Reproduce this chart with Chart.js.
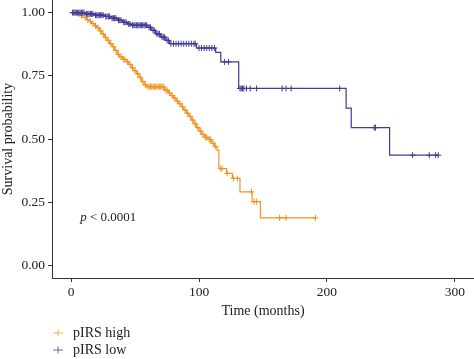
<!DOCTYPE html>
<html lang="en">
<head>
<meta charset="UTF-8" />
<title>Survival by pIRS</title>
<script src="https://cdn.jsdelivr.net/npm/chart.js"></script>
<style>
  * { margin: 0; padding: 0; box-sizing: border-box; }
  body { background: #fff; }
  .wrap { position: relative; width: 474px; height: 359px; }
</style>
</head>
<body>
<div class="wrap"><canvas id="km"></canvas></div>
<script>
// series names
const seriesNames = ['pIRS high', 'pIRS low'];

// pIRS high: event times / survival after the drop, censor times
const highEventT = [0, 4, 7, 9, 12, 14, 16, 18, 20, 22, 24, 26, 28, 30, 32, 34, 36, 38, 40, 43, 45, 47, 49, 51, 53, 55, 57, 59,
  73, 76, 78, 80, 82, 84, 86, 88, 90, 92, 94, 96, 98, 100, 102, 104, 107, 110, 112, 114, 115.5, 121.5, 126, 132, 141.5, 148];
const highEventS = [1, 0.995, 0.988, 0.981, 0.972, 0.965, 0.957, 0.948, 0.94, 0.928, 0.915, 0.902, 0.89, 0.877, 0.865, 0.85,
  0.835, 0.825, 0.815, 0.805, 0.795, 0.782, 0.77, 0.758, 0.744, 0.728, 0.714, 0.707,
  0.693, 0.682, 0.672, 0.662, 0.65, 0.64, 0.628, 0.615, 0.602, 0.59, 0.575, 0.56, 0.545, 0.532, 0.518, 0.507, 0.498,
  0.483, 0.47, 0.456, 0.383, 0.364, 0.344, 0.291, 0.252, 0.188];
const highCensorT = [3, 6, 8, 11, 13, 15, 17, 19, 21, 23, 25, 27, 29, 31, 33, 35, 37, 39, 41, 42, 44, 46, 48, 50, 52, 54, 56,
  58, 60, 61, 62, 63, 64, 65, 66, 67, 68, 69, 70, 71, 72, 74, 75, 77, 79, 81, 83, 85, 87, 89, 91, 93, 95, 97, 99, 101,
  103, 105, 106, 108, 109, 111, 113, 117, 118, 122, 127, 130, 141, 143, 145, 163, 168, 191];

// pIRS low
const lowEventT = [0, 11, 18, 26, 31, 36, 40, 44, 47, 60, 63, 66, 70, 74, 77, 98, 113, 117, 131, 215, 219, 249];
const lowEventS = [1, 0.995, 0.99, 0.985, 0.978, 0.97, 0.962, 0.955, 0.95, 0.942, 0.93, 0.916, 0.903, 0.89, 0.877,
  0.86, 0.843, 0.805, 0.70, 0.622, 0.545, 0.436];
const lowCensorT = [1, 2, 3, 4, 5, 6, 7, 8, 9, 10, 12, 13, 14, 15, 16, 17, 19, 20, 21, 22, 23, 24, 25, 27, 28, 29, 30,
  32, 33, 34, 35, 37, 38, 39, 41, 42, 43, 45, 46, 48, 49, 50, 51, 52, 53, 54, 55, 56, 57, 58, 59, 61, 62, 64, 65, 67,
  68, 69, 71, 72, 73, 75, 76, 78, 80, 82, 84, 86, 88, 90, 92, 94, 96, 97, 100, 102, 104, 106, 108, 110, 112, 120, 123,
  132, 133, 134, 135, 137, 140, 145, 165, 168, 172, 210, 237, 238, 267, 280, 285, 287];

// axis ticks
const xTicks = [0, 100, 200, 300];
const yTicks = [0, 0.25, 0.5, 0.75, 1];
const yTickLabels = ['0.00', '0.25', '0.50', '0.75', '1.00'];

const colors = ['#F39322', '#3F3B96'];
const serif = '"Liberation Serif", "DejaVu Serif", serif';

// merge events and censor marks into one step series
function buildSeries(evT, evS, cT) {
  const pts = evT.map((t, i) => ({ x: t, y: evS[i], c: false }));
  cT.forEach(t => {
    let s = 1;
    evT.forEach((et, i) => { if (et <= t) s = evS[i]; });
    pts.push({ x: t, y: s, c: true });
  });
  pts.sort((a, b) => a.x - b.x || (a.c ? 1 : -1));
  return pts;
}

const high = buildSeries(highEventT, highEventS, highCensorT);
const low = buildSeries(lowEventT, lowEventS, lowCensorT);

function dataset(label, pts, color, order) {
  return {
    label: label,
    data: pts.map(p => ({ x: p.x, y: p.y })),
    borderColor: color,
    backgroundColor: color,
    borderWidth: 1.2,
    stepped: true,
    fill: false,
    pointStyle: 'cross',
    pointRadius: pts.map(p => p.c ? 3 : 0),
    pointHoverRadius: pts.map(p => p.c ? 3 : 0),
    pointBorderWidth: 1,
    pointBorderColor: color,
    order: order
  };
}

// p-value and legend
const extras = {
  id: 'extras',
  afterDraw(chart) {
    const ctx = chart.ctx;
    const xs = chart.scales.x, ys = chart.scales.y;
    ctx.save();
    ctx.textBaseline = 'middle';
    ctx.fillStyle = '#222';
    const px = xs.getPixelForValue(7), py = ys.getPixelForValue(0.19);
    ctx.font = 'italic 13px ' + serif;
    ctx.fillText('p', px, py);
    const w = ctx.measureText('p').width;
    ctx.font = '13px ' + serif;
    ctx.fillText(' < 0.0001', px + w, py);

    ctx.font = '14px ' + serif;
    seriesNames.forEach((name, i) => {
      const ly = 333 + i * 17;
      ctx.strokeStyle = colors[i];
      ctx.globalAlpha = 0.75;
      ctx.lineWidth = 1;
      ctx.beginPath();
      ctx.moveTo(53, ly); ctx.lineTo(63, ly);
      ctx.moveTo(58, ly - 3.5); ctx.lineTo(58, ly + 3.5);
      ctx.stroke();
      ctx.globalAlpha = 1;
      ctx.fillStyle = '#222';
      ctx.fillText(name, 73, ly);
    });
    ctx.restore();
  }
};

new Chart(document.getElementById('km'), {
  type: 'line',
  data: {
    datasets: [
      dataset(seriesNames[0], high, colors[0], 1),
      dataset(seriesNames[1], low, colors[1], 0)
    ]
  },
  options: {
    responsive: true,
    maintainAspectRatio: false,
    animation: false,
    layout: { autoPadding: false, padding: { left: 0, right: 0, top: 0, bottom: 39 } },
    plugins: {
      legend: { display: false },
      tooltip: { enabled: false }
    },
    scales: {
      x: {
        type: 'linear',
        min: -15,
        max: 315,
        afterBuildTicks: s => { s.ticks = xTicks.map(v => ({ value: v })); },
        afterFit: s => { s.height = 42; s.paddingLeft = 0; s.paddingRight = 0; },
        grid: { drawOnChartArea: false, tickLength: 4, color: '#333' },
        border: { color: '#333', width: 1 },
        ticks: { padding: 2, color: '#222', font: { family: serif, size: 13.5 } },
        title: { display: true, text: 'Time (months)', padding: 0, color: '#222', font: { family: serif, size: 14 } }
      },
      y: {
        min: -0.05,
        max: 1.05,
        afterBuildTicks: s => { s.ticks = yTicks.map(v => ({ value: v })); },
        afterFit: s => { s.width = 52; s.paddingTop = 0; s.paddingBottom = 0; },
        grid: { drawOnChartArea: false, tickLength: 4, color: '#333' },
        border: { color: '#333', width: 1 },
        ticks: { padding: 3, color: '#222', font: { family: serif, size: 13.5 }, callback: (v, i) => yTickLabels[i] },
        title: { display: true, text: 'Survival probability', padding: 0, color: '#222', font: { family: serif, size: 14 } }
      }
    }
  },
  plugins: [extras]
});
</script>
</body>
</html>
